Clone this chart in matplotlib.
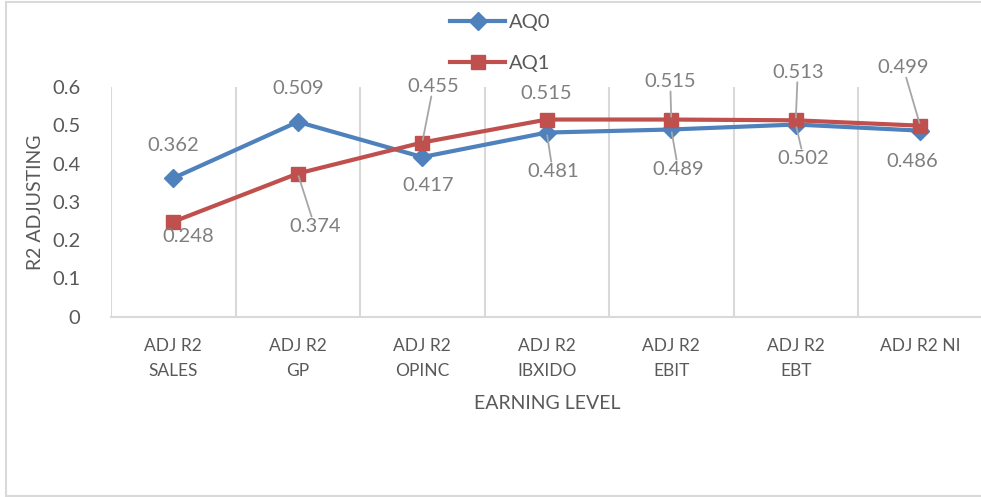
import matplotlib
matplotlib.use('Agg')
import matplotlib.pyplot as plt
from matplotlib.lines import Line2D

plt.rcParams['font.family'] = ['Lato', 'DejaVu Sans']

categories = ['ADJ R2\nSALES', 'ADJ R2\nGP', 'ADJ R2\nOPINC', 'ADJ R2\nIBXIDO',
              'ADJ R2\nEBIT', 'ADJ R2\nEBT', 'ADJ R2 NI']
aq0 = [0.362, 0.509, 0.417, 0.481, 0.489, 0.502, 0.486]
aq1 = [0.248, 0.374, 0.455, 0.515, 0.515, 0.513, 0.499]

# label offsets in pixels from each point, and whether a leader line is drawn
aq0_offsets = [(0, 33), (0, 33), (6, -28), (6, -39), (7, -40), (8, -34), (-8, -31)]
aq0_leader = [False, False, False, True, True, True, False]
aq1_offsets = [(15, -15), (17, -53), (11, 56), (-1, 26), (-1, 38), (2, 48), (-17, 58)]
aq1_leader = [False, True, True, False, True, True, True]

blue = '#4F81BD'
red = '#C0504D'
grid_col = '#D9D9D9'
text_col = '#595959'
label_col = '#7F7F7F'

W, H = 981, 497
fig = plt.figure(figsize=(W / 100, H / 100), dpi=100)
ax = fig.add_axes([111 / W, 1 - 316.7 / H, 871.5 / W, 229.7 / H])

x = list(range(len(categories)))
ax.plot(x, aq0, color=blue, lw=3, marker='D', ms=9, label='AQ0', zorder=3)
ax.plot(x, aq1, color=red, lw=3, marker='s', ms=10, label='AQ1', zorder=3)


def put_labels(vals, offsets, leaders):
    for i, v in enumerate(vals):
        arrow = None
        if leaders[i]:
            arrow = dict(arrowstyle='-', color='#A6A6A6', lw=1.3, shrinkA=0, shrinkB=2)
        ax.annotate(f'{v:.3f}', (i, v), xytext=offsets[i], textcoords='offset pixels',
                    ha='center', va='center', fontsize=14.5, color=label_col,
                    bbox=dict(facecolor='none', edgecolor='none', pad=1),
                    arrowprops=arrow, zorder=4, annotation_clip=False)


put_labels(aq0, aq0_offsets, aq0_leader)
put_labels(aq1, aq1_offsets, aq1_leader)

ax.set_xlim(-0.5, len(categories) - 0.5)
ax.set_ylim(0, 0.6)
ax.set_yticks([0, 0.1, 0.2, 0.3, 0.4, 0.5, 0.6])
ax.set_yticklabels(['0', '0.1', '0.2', '0.3', '0.4', '0.5', '0.6'])
ax.set_xticks(x)
ax.set_xticklabels(categories, linespacing=1.7)
ax.set_xticks([i - 0.5 for i in range(len(categories) + 1)], minor=True)
ax.grid(axis='x', which='minor', color=grid_col, lw=1.5)
ax.grid(axis='x', which='major', visible=False)
ax.tick_params(axis='x', which='both', length=0, pad=15, labelsize=12.5, labelcolor=text_col)
ax.tick_params(axis='y', length=0, pad=22, labelsize=14.5, labelcolor=text_col)

for s in ['top', 'right', 'left']:
    ax.spines[s].set_visible(False)
ax.spines['bottom'].set_color(grid_col)
ax.spines['bottom'].set_linewidth(1.5)

ax.set_xlabel('EARNING LEVEL', fontsize=14, color=text_col, labelpad=12)
ax.set_ylabel('R2 ADJUSTING', fontsize=14, color=text_col, labelpad=6)

fig.legend(loc='upper left', bbox_to_anchor=(450 / W, 1 - 14 / H), frameon=False,
           fontsize=14.5, labelcolor=text_col, handlelength=2.75, handletextpad=0.2,
           labelspacing=1.2, borderpad=0, borderaxespad=0)

# chart area border
fig.add_artist(Line2D([6 / W, 6 / W], [0.5 / H, 1 - 1.5 / H], color=grid_col, lw=1.5))
fig.add_artist(Line2D([6 / W, 1], [1 - 1.5 / H, 1 - 1.5 / H], color=grid_col, lw=1.5))
fig.add_artist(Line2D([6 / W, 1], [1 / H, 1 / H], color=grid_col, lw=1.5))

fig.savefig('out.png', dpi=100)
